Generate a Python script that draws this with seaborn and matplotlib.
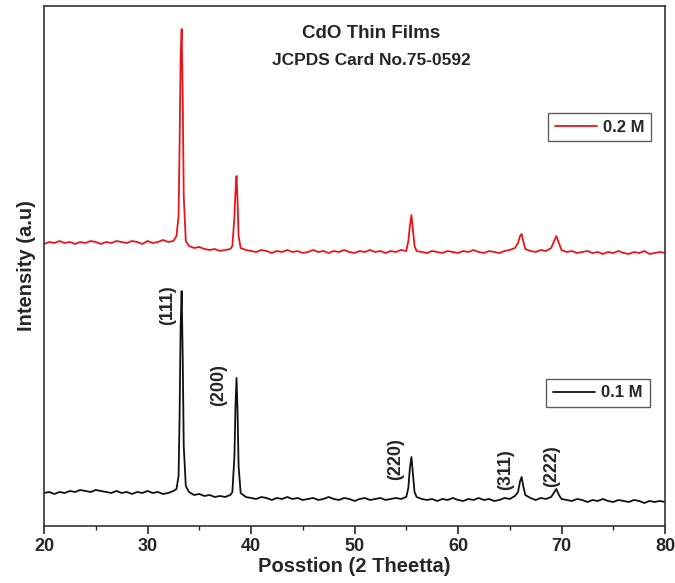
import matplotlib
matplotlib.use("Agg")
import matplotlib.pyplot as plt
import seaborn as sns
import pandas as pd
from matplotlib.ticker import MultipleLocator

# ---- data ----
two_theta = [
    20.0, 20.5, 21.0, 21.5, 22.0, 22.5, 23.0, 23.5, 24.0, 24.5, 25.0, 25.5, 26.0,
    26.5, 27.0, 27.5, 28.0, 28.5, 29.0, 29.5, 30.0, 30.5, 31.0, 31.5, 32.0, 32.5,
    32.8, 33.0, 33.1, 33.2, 33.3, 33.4, 33.5, 33.7,
    34.0, 34.5, 35.0, 35.5, 36.0, 36.5, 37.0, 37.5, 38.0,
    38.2, 38.4, 38.5, 38.6, 38.7, 38.8, 39.0,
    39.5, 40.0, 40.5, 41.0, 41.5, 42.0, 42.5, 43.0, 43.5, 44.0, 44.5, 45.0, 45.5,
    46.0, 46.5, 47.0, 47.5, 48.0, 48.5, 49.0, 49.5, 50.0, 50.5, 51.0, 51.5, 52.0,
    52.5, 53.0, 53.5, 54.0, 54.5, 55.0,
    55.2, 55.35, 55.5, 55.65, 55.8,
    56.0, 56.5, 57.0, 57.5, 58.0, 58.5, 59.0, 59.5, 60.0, 60.5, 61.0, 61.5, 62.0,
    62.5, 63.0, 63.5, 64.0, 64.5, 65.0, 65.5,
    65.8, 66.0, 66.15, 66.3, 66.5,
    67.0, 67.5, 68.0, 68.5, 69.0,
    69.25, 69.5, 69.75,
    70.0, 70.5, 71.0, 71.5, 72.0, 72.5, 73.0, 73.5, 74.0, 74.5, 75.0, 75.5, 76.0,
    76.5, 77.0, 77.5, 78.0, 78.5, 79.0, 79.5, 80.0,
]

intensity_01M = [
    33, 34, 32, 34, 33, 35, 34, 36, 35, 34, 36, 35, 34, 33, 35, 33, 34, 32, 34, 33,
    35, 33, 34, 32, 33, 35,
    37, 50, 110, 200, 235, 170, 80, 40,
    34, 31, 32, 30, 31, 29, 30, 29, 31,
    34, 70, 120, 148, 115, 60, 33,
    29, 28, 27, 29, 28, 26, 28, 27, 29, 27, 28, 26, 27, 28, 26, 27, 29, 27, 26, 28,
    27, 25, 27, 28, 26, 27, 28, 26, 27, 28, 27, 29,
    38, 58, 69, 52, 34,
    29, 27, 26, 27, 25, 27, 26, 28, 26, 25, 27, 26, 28, 26, 27, 25, 26, 28, 27, 30,
    34, 45, 49, 40, 31,
    28, 26, 28, 27, 29,
    33, 37, 31,
    27, 26, 25, 27, 26, 24, 26, 25, 27, 25, 24, 26, 25, 24, 26, 25, 23, 25, 24, 25, 24,
]

intensity_02M = [
    282, 284, 283, 285, 283, 284, 282, 284, 283, 285, 284, 282, 284, 283, 285, 284,
    283, 285, 284, 282, 285, 283, 284, 286, 284, 285,
    290, 310, 380, 470, 497, 430, 330, 285,
    280, 278, 279, 277, 276, 277, 275, 276, 277,
    280, 310, 335, 350, 325, 290, 278,
    276, 275, 274, 276, 275, 273, 275, 274, 276, 274, 275, 273, 274, 276, 274, 275,
    273, 275, 274, 276, 274, 273, 275, 274, 276, 274, 275, 273, 275, 274, 276, 275,
    285, 300, 311, 295, 280,
    275, 274, 273, 275, 274, 273, 275, 274, 273, 275, 274, 276, 274, 273, 275, 274,
    273, 275, 276, 278,
    283, 290, 292, 285, 277,
    275, 274, 276, 275, 278,
    284, 290, 283,
    276, 274, 275, 273, 274, 275, 273, 274, 272, 274, 273, 275, 273, 272, 274, 273,
    275, 272, 273, 274, 273,
]

peak_labels = ["(111)", "(200)", "(220)", "(311)", "(222)"]
peak_label_x = [31.9, 36.9, 54.0, 64.6, 69.0]
peak_label_y = [221, 141, 67, 56, 60]

x_ticks = [20, 30, 40, 50, 60, 70, 80]

# ---- styling ----
sns.set_style("white")
plt.rcParams["font.family"] = ["Liberation Sans", "DejaVu Sans"]
plt.rcParams["font.weight"] = "bold"

fig = plt.figure(figsize=(6.75, 5.83), dpi=100)
ax = fig.add_axes([0.0652, 0.0978, 0.9200, 0.8919])

df01 = pd.DataFrame({"x": two_theta, "y": intensity_01M})
df02 = pd.DataFrame({"x": two_theta, "y": intensity_02M})

sns.lineplot(data=df02, x="x", y="y", ax=ax, color="#e8161b", lw=1.3,
             label="0.2 M", legend=False)
sns.lineplot(data=df01, x="x", y="y", ax=ax, color="#111111", lw=1.3,
             label="0.1 M", legend=False)

lines = ax.get_lines()
red_line, black_line = lines[0], lines[1]

ax.set_xlim(20, 80)
ax.set_ylim(0, 520)
ax.set_xticks(x_ticks)
ax.xaxis.set_minor_locator(MultipleLocator(5))
ax.set_yticks([])
ax.tick_params(axis="x", which="major", direction="out", length=6, width=1.2,
               labelsize=13, pad=3, bottom=True)
ax.tick_params(axis="x", which="minor", direction="out", length=3, width=1.0,
               bottom=True)
for lab in ax.get_xticklabels():
    lab.set_fontweight("bold")

for sp in ax.spines.values():
    sp.set_visible(True)
    sp.set_color("#333333")
    sp.set_linewidth(1.2)

ax.set_xlabel("Posstion (2 Theetta)", fontsize=14.5, fontweight="bold", labelpad=1)
ax.set_ylabel("Intensity (a.u)", fontsize=14.5, fontweight="bold", labelpad=6)

ax.text(51.6, 493, "CdO Thin Films", ha="center", va="center",
        fontsize=13.5, fontweight="bold")
ax.text(51.6, 466, "JCPDS Card No.75-0592", ha="center", va="center",
        fontsize=12.5, fontweight="bold")

for lbl, px, py in zip(peak_labels, peak_label_x, peak_label_y):
    ax.text(px, py, lbl, rotation=90, ha="center", va="center",
            fontsize=13, fontweight="bold")

leg_kw = dict(frameon=True, fancybox=False, edgecolor="#333333",
              prop={"weight": "bold", "size": 12}, handlelength=2.5,
              handletextpad=0.4, borderpad=0.4, borderaxespad=0)
leg2 = ax.legend(handles=[red_line], labels=["0.2 M"], loc="center",
                 bbox_to_anchor=(0.895, 0.767), **leg_kw)
leg2.get_frame().set_linewidth(1.0)
ax.add_artist(leg2)
leg1 = ax.legend(handles=[black_line], labels=["0.1 M"], loc="center",
                 bbox_to_anchor=(0.892, 0.256), **leg_kw)
leg1.get_frame().set_linewidth(1.0)

fig.savefig("out.png", dpi=100)
